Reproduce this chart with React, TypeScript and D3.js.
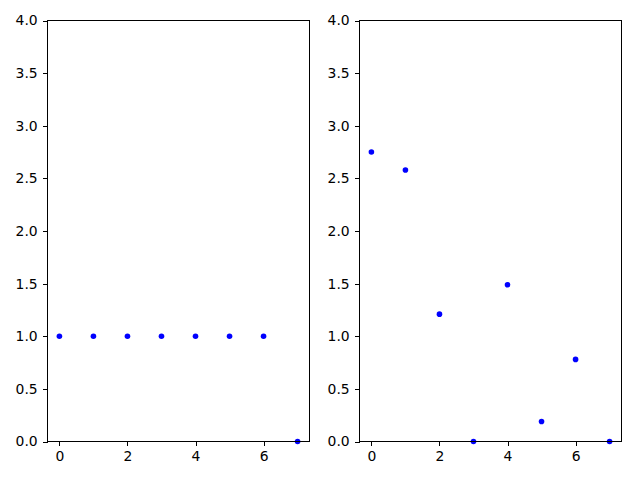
import React, { useRef, useEffect } from 'react';
import * as d3 from 'd3';

const X_VALUES = [0, 1, 2, 3, 4, 5, 6, 7];
const LEFT_VALUES = [1, 1, 1, 1, 1, 1, 1, 0];
const RIGHT_VALUES = [2.75, 2.58, 1.21, 0, 1.49, 0.19, 0.78, 0];
const X_TICKS = [0, 2, 4, 6];
const Y_TICKS = [0, 0.5, 1, 1.5, 2, 2.5, 3, 3.5, 4];

const PANELS = [
  { left: 47, values: LEFT_VALUES },
  { left: 359, values: RIGHT_VALUES },
];

const App: React.FC = () => {
  const svgRef = useRef<SVGSVGElement>(null);

  useEffect(() => {
    if (!svgRef.current) return;
    const svg = d3.select(svgRef.current);
    svg.selectAll('*').remove();

    const top = 20;
    const width = 262;
    const height = 421;
    const font = 'DejaVu Sans, sans-serif';

    svg.append('rect').attr('width', 640).attr('height', 480).attr('fill', '#fff');

    PANELS.forEach(panel => {
      const g = svg.append('g').attr('transform', `translate(${panel.left + 0.5},${top + 0.5})`);
      const x = d3.scaleLinear().domain([-0.35, 7.35]).range([0, width]);
      const y = d3.scaleLinear().domain([0, 4]).range([height, 0]);

      // Points
      g.selectAll('circle')
        .data(X_VALUES)
        .join('circle')
        .attr('cx', d => x(d))
        .attr('cy', (d, i) => y(panel.values[i]))
        .attr('r', 2.8)
        .attr('fill', '#0000ff');

      // X axis
      const xa = g.append('g')
        .attr('transform', `translate(0,${height})`)
        .call(d3.axisBottom(x).tickValues(X_TICKS).tickFormat(d3.format('d')).tickSizeOuter(0).tickSize(4.9).tickPadding(4.9));
      xa.select('.domain').remove();
      xa.selectAll('line').attr('stroke', '#000').attr('stroke-width', 1).attr('shape-rendering', 'crispEdges');
      xa.selectAll('text').attr('fill', '#000').attr('font-size', '13.9px').attr('font-family', font);

      // Y axis
      const ya = g.append('g')
        .call(d3.axisLeft(y).tickValues(Y_TICKS).tickFormat(d3.format('.1f')).tickSizeOuter(0).tickSize(4.9).tickPadding(4.9));
      ya.select('.domain').remove();
      ya.selectAll('line').attr('stroke', '#000').attr('stroke-width', 1).attr('shape-rendering', 'crispEdges');
      ya.selectAll('text').attr('fill', '#000').attr('font-size', '13.9px').attr('font-family', font);

      // Frame
      g.append('rect')
        .attr('width', width)
        .attr('height', height)
        .attr('fill', 'none')
        .attr('stroke', '#000')
        .attr('stroke-width', 1)
        .attr('shape-rendering', 'crispEdges');
    });
  }, []);

  return (
    <svg
      ref={svgRef}
      width={640}
      height={480}
      style={{ position: 'absolute', left: 0, top: 0 }}
    />
  );
};

export default App;
